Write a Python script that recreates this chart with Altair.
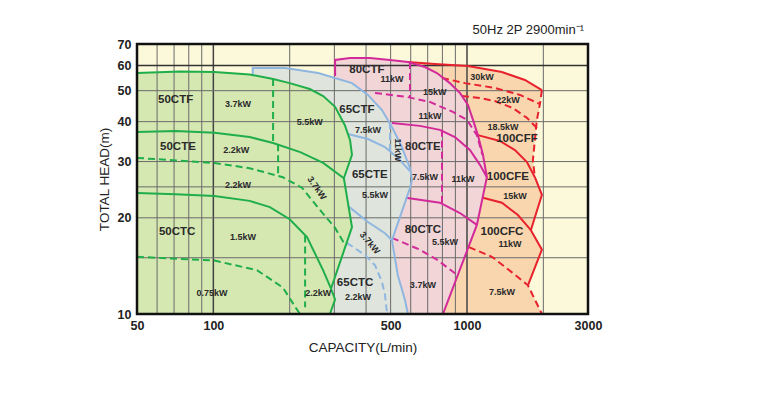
import altair as alt
import pandas as pd

X_DOMAIN = [50, 3000]
Y_DOMAIN = [10, 70]
x_labels = [50, 100, 500, 1000, 3000]
y_labels = [10, 20, 30, 40, 50, 60, 70]
x_grid_minor = [60, 70, 80, 90, 200, 300, 400, 500, 600, 700, 800, 900, 2000]
x_grid_major = [100, 1000]
y_grid_minor = [15, 20, 25, 30, 40, 50]
y_grid_major = [60]

# ---------------- 50CT (green) ----------------
g_env_q = [50, 74, 101, 139, 172, 200, 240, 271, 302, 330, 346, 352, 327, 352, 291, 302, 288]
g_env_h = [56.8, 57.4, 57.2, 56.2, 54.4, 52.8, 50.6, 48.1, 44.5, 39.0, 35.0, 31.5, 26.6, 18.7, 12.0, 11.1, 10]
g_e_q = [50, 71, 101, 139, 172, 220, 271, 327]
g_e_h = [37.1, 37.4, 36.9, 35.8, 34.3, 32.1, 29.7, 26.6]
g_c_q = [50, 71, 101, 139, 167, 200, 234, 271, 291]
g_c_h = [23.9, 23.7, 23.4, 22.6, 21.6, 19.8, 17.4, 13.7, 12.0]
g_d1_q = [50, 101, 139, 188, 224, 259, 302, 333]
g_d1_h = [30.8, 29.7, 28.6, 26.8, 24.8, 21.5, 18.6, 16.3]
g_d2_q = [50, 101, 149, 188, 214, 220]
g_d2_h = [15.1, 14.7, 13.7, 12.1, 10.3, 10]
g_v1_q = [172, 172]
g_v1_h = [54.4, 34.3]
g_v2_q = [180, 180]
g_v2_h = [34.0, 27.0]
g_v3_q = [230, 230]
g_v3_h = [17.6, 10.5]

# ---------------- 65CT (blue) ----------------
b_env_q = [143, 143, 192, 259, 352, 407, 462, 506, 554, 596, 607, 596, 506, 534, 569, 585]
b_env_h = [56.0, 58.9, 58.9, 56.8, 52.8, 48.5, 43.5, 38.5, 33.3, 28.6, 26.3, 24.8, 17.0, 13.2, 11.1, 10]
b_e_q = [339, 407, 475, 534, 596]
b_e_h = [36.6, 35.3, 33.3, 30.8, 28.0]
b_c_q = [339, 407, 475, 506]
b_c_h = [21.8, 19.4, 17.9, 17.0]
b_d_q = [336, 396, 434, 462, 475, 484]
b_d_h = [16.7, 15.3, 14.2, 12.6, 11.5, 10]
b_v_q = [497, 497]
b_v_h = [39.9, 32.4]

# ---------------- 80CT (magenta) ----------------
p_env_q = [302, 302, 346, 414, 497, 585, 683, 761, 856, 938, 1009, 1056, 1104, 1156, 1198, 1094, 804]
p_env_h = [55.6, 62.4, 63.3, 63.3, 62.4, 61.5, 59.3, 56.8, 52.8, 49.2, 45.1, 40.5, 36.3, 31.5, 26.8, 19.0, 10]
p_e_q = [506, 652, 782, 896, 1027, 1125, 1198]
p_e_h = [39.6, 38.8, 37.7, 35.8, 32.6, 29.3, 26.8]
p_d1_q = [434, 580, 714, 880, 1000, 1094, 1150]
p_d1_h = [49.2, 47.8, 46.1, 42.9, 40.5, 36.3, 31.5]
p_v1_q = [596, 596]
p_v1_h = [61.5, 47.4]
p_v2_q = [797, 797]
p_v2_h = [37.7, 22.3]
p_c_q = [574, 782, 938, 1094]
p_c_h = [23.1, 22.3, 20.7, 19.0]
p_d2_q = [506, 652, 761, 921]
p_d2_h = [17.3, 15.9, 14.8, 13.2]

# ---------------- 100CF (red) ----------------
o_top_q = [585, 747, 1009, 1373, 1692, 1974]
o_top_h = [61.5, 60.6, 59.7, 57.2, 54.0, 50.2]
o_right_q = [1974, 1939, 1886, 1852, 1819, 1852]
o_right_h = [50.2, 45.4, 40.5, 35.0, 30.3, 26.8]
o_zig_q = [1852, 1974, 1786, 1974, 1739]
o_zig_h = [26.8, 23.6, 18.3, 15.9, 12.3]
o_e_q = [1104, 1348, 1545, 1723, 1852]
o_e_h = [36.3, 34.8, 32.6, 29.9, 26.8]
o_c_q = [1156, 1373, 1588, 1786]
o_c_h = [23.1, 22.3, 20.4, 18.3]
o_d1_q = [797, 982, 1288, 1617, 1939]
o_d1_h = [54.8, 52.8, 51.0, 48.5, 45.4]
o_d2_q = [955, 1125, 1288, 1517, 1723, 1886]
o_d2_h = [48.1, 47.4, 46.4, 44.1, 41.1, 38.2]
o_d3_q = [1018, 1254, 1504, 1739, 1974]
o_d3_h = [16.2, 15.1, 13.5, 12.3, 10]

# ---------------- labels ----------------
name_txt = ["50CTF", "50CTE", "50CTC", "65CTF", "65CTE", "65CTC",
            "80CTF", "80CTE", "80CTC", "100CFF", "100CFE", "100CFC"]
name_q = [71, 72.5, 72, 368, 414, 362, 403, 670, 670, 1574, 1450, 1373]
name_h = [46.8, 33.3, 18.1, 43.5, 27.2, 12.5, 58.0, 33.3, 18.3, 35.3, 26.8, 18.1]

kw_txt = ["3.7kW", "5.5kW", "2.2kW", "2.2kW", "1.5kW", "0.75kW", "2.2kW",
          "7.5kW", "5.5kW", "2.2kW",
          "11kW", "15kW", "11kW", "7.5kW", "11kW", "5.5kW", "3.7kW",
          "30kW", "22kW", "18.5kW", "15kW", "11kW", "7.5kW"]
kw_q = [125, 240, 123, 125, 131, 98.8, 259,
        407, 434, 372,
        506, 747, 714, 683, 964, 819, 670,
        1145, 1450, 1386, 1545, 1477, 1373]
kw_h = [45.4, 39.9, 32.6, 25.3, 17.4, 11.6, 11.6,
        37.7, 23.6, 11.3,
        54.4, 49.5, 41.7, 26.8, 26.5, 16.8, 12.3,
        55.2, 46.8, 38.5, 23.4, 16.6, 11.7]

rot_txt = ["3.7kW", "3.7kW", "11kW"]
rot_q = [256, 414, 534]
rot_h = [24.8, 16.7, 32.6]
rot_angle = [55, 50, 90]

# ---------------- colours ----------------
BG = "#fcf8da"
G_FILL, G_LINE = "#d6e8b2", "#1fae4a"
B_FILL, B_LINE = "#dfe5dd", "#8fb6e0"
P_FILL, P_LINE = "#f1d5d7", "#d22a98"
O_FILL, O_LINE = "#f9d6ae", "#e8222d"
GRID = "#6a6a6a"
FONT = "Liberation Sans"

xs = alt.Scale(type="log", domain=X_DOMAIN, nice=False)
ys = alt.Scale(type="log", domain=Y_DOMAIN, nice=False)
x_axis = alt.Axis(values=x_labels, format="d", title="CAPACITY(L/min)", labelFlush=False,
                  grid=False, ticks=False, domain=False, labelPadding=5, titlePadding=9)
y_axis = alt.Axis(values=y_labels, format="d", title="TOTAL HEAD(m)", labelFlush=False,
                  grid=False, ticks=False, domain=False, labelPadding=6, titlePadding=6)


def X(field="q"):
    return alt.X(f"{field}:Q", scale=xs, axis=x_axis)


def Y(field="h"):
    return alt.Y(f"{field}:Q", scale=ys, axis=y_axis)


def df(q, h):
    return pd.DataFrame({"q": q, "h": h, "ord": list(range(len(q)))})


def enc(chart):
    return chart.encode(x=X(), y=Y(), order=alt.Order("ord:Q"))


def poly(q, h, color):
    return enc(alt.Chart(df(q, h)).mark_line(fill=color, strokeOpacity=0, clip=True))


def line(q, h, color, width=2.0, dash=None):
    kw = dict(color=color, strokeWidth=width, clip=True)
    if dash:
        kw["strokeDash"] = dash
    return enc(alt.Chart(df(q, h)).mark_line(**kw))


DASH = [7, 4]

layers = []
# fills (back to front)
layers.append(poly([585] + o_top_q + o_right_q[1:] + o_zig_q[1:] + o_d3_q[-1:],
                   [10] + o_top_h + o_right_h[1:] + o_zig_h[1:] + o_d3_h[-1:], O_FILL))
layers.append(poly([302] + p_env_q, [10] + p_env_h, P_FILL))
layers.append(poly([143] + b_env_q, [10] + b_env_h, B_FILL))
layers.append(poly([50] + g_env_q + [50], [10] + g_env_h + [10], G_FILL))

# grid
layers.append(alt.Chart(pd.DataFrame({"q": x_grid_minor})).mark_rule(color=GRID, strokeWidth=1)
              .encode(x=X()))
layers.append(alt.Chart(pd.DataFrame({"q": x_grid_major})).mark_rule(color="#444", strokeWidth=1.5)
              .encode(x=X()))
layers.append(alt.Chart(pd.DataFrame({"h": y_grid_minor})).mark_rule(color=GRID, strokeWidth=1)
              .encode(y=Y()))
layers.append(alt.Chart(pd.DataFrame({"h": y_grid_major})).mark_rule(color="#333", strokeWidth=1.5)
              .encode(y=Y()))

# red lines
layers += [
    line(o_top_q, o_top_h, O_LINE),
    line(o_right_q, o_right_h, O_LINE, dash=DASH),
    line(o_zig_q, o_zig_h, O_LINE),
    line(o_e_q, o_e_h, O_LINE),
    line(o_c_q, o_c_h, O_LINE),
    line(o_d1_q, o_d1_h, O_LINE, dash=DASH),
    line(o_d2_q, o_d2_h, O_LINE, dash=DASH),
    line(o_d3_q, o_d3_h, O_LINE, dash=DASH),
]
# magenta lines
layers += [
    line(p_env_q, p_env_h, P_LINE),
    line(p_e_q, p_e_h, P_LINE),
    line(p_c_q, p_c_h, P_LINE),
    line(p_d1_q, p_d1_h, P_LINE, dash=DASH),
    line(p_d2_q, p_d2_h, P_LINE, dash=DASH),
    line(p_v1_q, p_v1_h, P_LINE, dash=DASH),
    line(p_v2_q, p_v2_h, P_LINE, dash=DASH),
]
# blue lines
layers += [
    line(b_env_q, b_env_h, B_LINE),
    line(b_e_q, b_e_h, B_LINE),
    line(b_c_q, b_c_h, B_LINE),
    line(b_d_q, b_d_h, B_LINE, dash=DASH),
    line(b_v_q, b_v_h, B_LINE, dash=DASH),
]
# green lines
layers += [
    line(g_env_q, g_env_h, G_LINE),
    line(g_e_q, g_e_h, G_LINE),
    line(g_c_q, g_c_h, G_LINE),
    line(g_d1_q, g_d1_h, G_LINE, dash=DASH),
    line(g_d2_q, g_d2_h, G_LINE, dash=DASH),
    line(g_v1_q, g_v1_h, G_LINE, dash=DASH),
    line(g_v2_q, g_v2_h, G_LINE, dash=DASH),
    line(g_v3_q, g_v3_h, G_LINE, dash=DASH),
]

# frame
layers.append(alt.Chart(pd.DataFrame({"q": [X_DOMAIN[0]], "q2": [X_DOMAIN[1]],
                                      "h": [Y_DOMAIN[0]], "h2": [Y_DOMAIN[1]]}))
              .mark_rect(fillOpacity=0, stroke="#111", strokeWidth=2.5)
              .encode(x=X(), x2="q2:Q", y=Y(), y2="h2:Q"))

# texts
layers.append(alt.Chart(pd.DataFrame({"q": name_q, "h": name_h, "t": name_txt}))
              .mark_text(font=FONT, fontSize=11.5, fontWeight="bold", color="#2a2a2a")
              .encode(x=X(), y=Y(), text="t:N"))
layers.append(alt.Chart(pd.DataFrame({"q": kw_q, "h": kw_h, "t": kw_txt}))
              .mark_text(font=FONT, fontSize=9, fontWeight="bold", color="#2a2a2a")
              .encode(x=X(), y=Y(), text="t:N"))
for t, q, h, a in zip(rot_txt, rot_q, rot_h, rot_angle):
    layers.append(alt.Chart(pd.DataFrame({"q": [q], "h": [h], "t": [t]}))
                  .mark_text(font=FONT, fontSize=9, fontWeight="bold", color="#2a2a2a", angle=a)
                  .encode(x=X(), y=Y(), text="t:N"))

chart = alt.layer(*layers).properties(
    width=451, height=270,
    autosize="none",
    padding={"left": 129, "top": 36, "right": 20, "bottom": 60},
    title=alt.TitleParams("50Hz 2P 2900min⁻¹", anchor="end", frame="group", font=FONT,
                          fontSize=13, fontWeight="normal", color="#222", offset=8, dx=-4, dy=7),
).configure_view(fill=BG, stroke=None).configure_axis(
    labelFont=FONT, labelFontSize=12.5, labelFontWeight="bold", labelColor="#222",
    titleFont=FONT, titleFontSize=13.5, titleFontWeight="normal", titleColor="#222",
)

chart.save("out.html", embed_options={"renderer": "svg", "actions": False})
